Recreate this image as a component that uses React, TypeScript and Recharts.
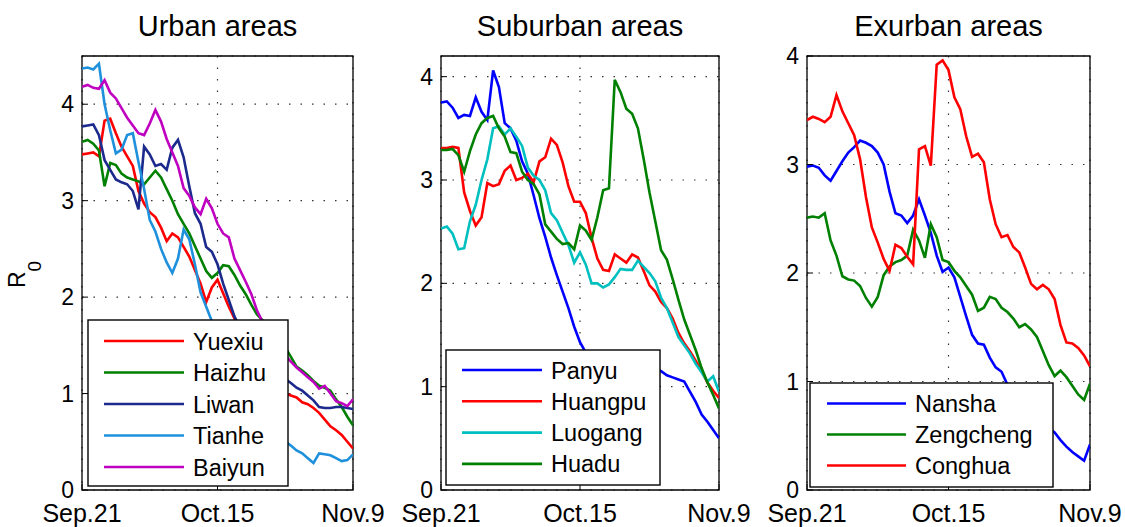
import React from "react";
import { LineChart, Line, XAxis, YAxis, CartesianGrid, ReferenceArea } from "recharts";

// ---- shared x axis ----
const days = [0,1,2,3,4,5,6,7,8,9,10,11,12,13,14,15,16,17,18,19,20,21,22,23,24,25,26,27,28,29,30,31,32,33,34,35,36,37,38,39,40,41,42,43,44,45,46,47,48];
const xTickDays = [0, 24, 48];
const xTickLabels = ["Sep.21", "Oct.15", "Nov.9"];
const yTicks = [0, 1, 2, 3, 4];

// ---- Urban areas ----
const urbanNames = ["Yuexiu", "Haizhu", "Liwan", "Tianhe", "Baiyun"];
const urbanColors = ["#ff0000", "#008000", "#1b2a8c", "#1e90dc", "#c000c0"];
const yuexiu = [3.48,3.49,3.50,3.46,3.83,3.85,3.70,3.56,3.46,3.36,3.10,2.97,2.88,2.83,2.72,2.58,2.66,2.62,2.52,2.42,2.28,2.14,1.95,2.10,2.18,2.04,1.90,1.78,1.66,1.55,1.45,1.36,1.28,1.20,1.12,1.05,1.00,0.98,0.96,0.91,0.89,0.85,0.80,0.73,0.66,0.62,0.57,0.50,0.43];
const haizhu = [3.61,3.63,3.59,3.52,3.15,3.39,3.37,3.28,3.24,3.22,3.20,3.17,3.24,3.31,3.24,3.12,3.00,2.86,2.76,2.66,2.53,2.40,2.27,2.20,2.25,2.33,2.32,2.23,2.12,2.03,1.92,1.82,1.76,1.68,1.60,1.53,1.48,1.38,1.28,1.24,1.19,1.13,1.08,1.06,1.03,0.94,0.86,0.76,0.67];
const liwan = [3.77,3.78,3.79,3.68,3.42,3.32,3.22,3.19,3.17,3.10,2.91,3.56,3.48,3.36,3.38,3.32,3.55,3.63,3.45,3.15,2.87,2.76,2.52,2.47,2.34,2.14,1.97,1.80,1.68,1.58,1.50,1.43,1.36,1.30,1.24,1.19,1.15,1.11,1.06,1.03,0.98,0.93,0.86,0.85,0.85,0.86,0.86,0.85,0.84];
const tianhe = [4.37,4.38,4.36,4.42,4.00,3.73,3.49,3.53,3.68,3.70,3.40,3.12,2.80,2.68,2.50,2.36,2.25,2.40,2.70,2.60,2.34,2.05,1.90,1.75,1.55,1.35,1.20,1.05,0.95,0.85,0.78,0.72,0.66,0.60,0.56,0.52,0.50,0.46,0.41,0.38,0.33,0.28,0.38,0.37,0.36,0.33,0.30,0.31,0.37];
const baiyun = [4.18,4.20,4.17,4.16,4.25,4.12,4.06,3.96,3.86,3.78,3.70,3.68,3.80,3.94,3.82,3.64,3.50,3.36,3.13,3.05,2.93,2.86,3.02,2.92,2.76,2.66,2.62,2.40,2.28,2.16,2.03,1.86,1.74,1.64,1.55,1.47,1.40,1.33,1.27,1.22,1.17,1.12,1.05,1.08,1.00,0.92,0.90,0.87,0.94];

// ---- Suburban areas ----
const suburbanNames = ["Panyu", "Huangpu", "Luogang", "Huadu"];
const suburbanColors = ["#0000ff", "#ff0000", "#00bfbf", "#008000"];
const panyu = [3.75,3.76,3.70,3.60,3.63,3.62,3.80,3.66,3.58,4.06,3.90,3.55,3.50,3.38,3.18,3.06,2.85,2.63,2.45,2.25,2.08,1.92,1.76,1.58,1.43,1.33,1.29,1.27,1.25,1.24,1.23,1.22,1.21,1.20,1.20,1.19,1.18,1.17,1.15,1.11,1.09,1.07,1.05,0.95,0.85,0.73,0.66,0.58,0.50];
const huangpu = [3.31,3.31,3.32,3.31,2.88,2.70,2.56,2.64,2.97,2.94,2.96,3.09,3.14,3.00,3.02,3.06,2.98,3.18,3.22,3.40,3.34,3.17,2.94,2.79,2.79,2.68,2.44,2.24,2.13,2.12,2.28,2.24,2.20,2.28,2.25,2.12,1.98,1.92,1.82,1.76,1.66,1.52,1.42,1.34,1.25,1.15,1.04,0.96,0.89];
const luogang = [2.53,2.55,2.48,2.33,2.34,2.60,2.76,3.00,3.20,3.50,3.52,3.44,3.50,3.42,3.33,3.12,3.04,3.00,2.90,2.68,2.61,2.49,2.37,2.20,2.30,2.18,2.00,2.00,1.96,1.99,2.06,2.14,2.13,2.13,2.22,2.16,2.10,2.02,1.86,1.76,1.62,1.48,1.40,1.32,1.22,1.14,1.05,1.10,0.95];
const huadu = [3.29,3.29,3.30,3.24,3.08,3.28,3.44,3.55,3.60,3.62,3.50,3.42,3.27,3.26,3.08,3.00,2.96,2.86,2.57,2.50,2.43,2.38,2.39,2.33,2.56,2.51,2.42,2.64,2.90,2.92,3.97,3.85,3.69,3.64,3.50,3.20,2.88,2.60,2.32,2.23,2.04,1.84,1.65,1.50,1.35,1.18,1.04,0.92,0.79];

// ---- Exurban areas ----
const exurbanNames = ["Nansha", "Zengcheng", "Conghua"];
const exurbanColors = ["#0000ff", "#008000", "#ff0000"];
const nansha = [2.98,2.99,2.97,2.90,2.85,2.94,3.03,3.11,3.16,3.22,3.20,3.17,3.11,3.00,2.75,2.55,2.53,2.46,2.53,2.68,2.53,2.37,2.16,2.01,2.05,1.96,1.78,1.60,1.43,1.35,1.34,1.22,1.13,1.09,0.97,0.90,0.84,0.78,0.72,0.67,0.62,0.57,0.53,0.46,0.40,0.35,0.31,0.27,0.42];
const zengcheng = [2.51,2.52,2.51,2.55,2.30,2.16,1.97,1.94,1.93,1.88,1.77,1.69,1.78,1.98,2.06,2.10,2.12,2.16,2.40,2.30,2.14,2.45,2.33,2.12,2.10,2.02,1.96,1.88,1.80,1.65,1.68,1.78,1.76,1.68,1.64,1.58,1.50,1.53,1.48,1.41,1.28,1.15,1.05,1.10,1.04,0.96,0.88,0.83,0.98];
const conghua = [3.41,3.44,3.42,3.39,3.44,3.64,3.49,3.38,3.27,3.05,2.70,2.42,2.28,2.13,2.02,2.26,2.23,2.15,2.08,3.14,3.17,2.99,3.92,3.96,3.87,3.62,3.51,3.26,3.07,3.10,3.02,2.68,2.45,2.33,2.35,2.24,2.19,2.05,1.90,1.85,1.89,1.85,1.76,1.52,1.36,1.35,1.31,1.24,1.14];

const FONT = '"Liberation Sans", Arial, Helvetica, sans-serif';
const YW = 60;
const MR = 45;

type Panel = {
  title: string;
  names: string[];
  colors: string[];
  series: number[][];
  yMax: number;
  plotLeft: number;
  plotRight: number;
  legend: { x: number; y: number; w: number; h: number; row0: number; step: number; lx1: number; lx2: number; tx: number };
};

const panels: Panel[] = [
  {
    title: "Urban areas",
    names: urbanNames,
    colors: urbanColors,
    series: [yuexiu, haizhu, liwan, tianhe, baiyun],
    yMax: 4.5,
    plotLeft: 82,
    plotRight: 353,
    legend: { x: 88, y: 320, w: 200, h: 166, row0: 341, step: 31.5, lx1: 104, lx2: 184, tx: 193 },
  },
  {
    title: "Suburban areas",
    names: suburbanNames,
    colors: suburbanColors,
    series: [panyu, huangpu, luogang, huadu],
    yMax: 4.2,
    plotLeft: 441,
    plotRight: 719,
    legend: { x: 446, y: 350, w: 214, h: 135, row0: 370, step: 31.3, lx1: 462, lx2: 542, tx: 551 },
  },
  {
    title: "Exurban areas",
    names: exurbanNames,
    colors: exurbanColors,
    series: [nansha, zengcheng, conghua],
    yMax: 4,
    plotLeft: 807,
    plotRight: 1090,
    legend: { x: 810, y: 383, w: 243, h: 104, row0: 403.5, step: 31, lx1: 827, lx2: 906, tx: 915 },
  },
];

function buildRows(p: Panel) {
  return days.map((d, k) => {
    const row: Record<string, number> = { day: d };
    p.names.forEach((n, j) => {
      row[n] = p.series[j][k];
    });
    return row;
  });
}

function PanelChart({ p }: { p: Panel }) {
  const pw = p.plotRight - p.plotLeft;
  const rows = buildRows(p);
  return (
    <div style={{ position: "absolute", left: p.plotLeft - YW, top: 0 }}>
      <LineChart width={YW + pw + MR} height={527} data={rows} margin={{ top: 56, right: MR, bottom: 0, left: 0 }}>
        <CartesianGrid strokeDasharray="1.5 10" stroke="#333" strokeWidth={1.2} />
        <XAxis
          dataKey="day"
          type="number"
          domain={[0, 48]}
          ticks={xTickDays}
          interval={0}
          tickFormatter={(v: number) => xTickLabels[xTickDays.indexOf(v)]}
          height={37}
          axisLine={false}
          tickSize={-6}
          tickMargin={20}
          tick={{ fontSize: 25, fill: "#000" }}
          tickLine={{ stroke: "#000" }}
          allowDataOverflow
        />
        <YAxis
          type="number"
          domain={[0, p.yMax]}
          ticks={yTicks}
          interval={0}
          width={YW}
          axisLine={false}
          tickSize={-6}
          tickMargin={14}
          tick={{ fontSize: 23, fill: "#000" }}
          tickLine={{ stroke: "#000" }}
          allowDataOverflow
        />
        {p.names.map((n, j) => (
          <Line
            key={n}
            dataKey={n}
            type="linear"
            stroke={p.colors[j]}
            strokeWidth={2.6}
            dot={false}
            activeDot={false}
            isAnimationActive={false}
          />
        ))}
        <ReferenceArea x1={0} x2={48} y1={0} y2={p.yMax} fill="none" fillOpacity={0} stroke="#000" strokeWidth={1.3} ifOverflow="visible" />
      </LineChart>
    </div>
  );
}

function Overlay() {
  return (
    <svg width={1125} height={527} style={{ position: "absolute", left: 0, top: 0, pointerEvents: "none" }}>
      {panels.map((p) => (
        <text key={p.title} x={(p.plotLeft + p.plotRight) / 2} y={36} textAnchor="middle" fontSize={29} fill="#000" fontFamily={FONT}>
          {p.title}
        </text>
      ))}
      <text transform="rotate(-90)" x={-288} y={25} fontSize={23} fill="#000" fontFamily={FONT}>
        R<tspan fontSize={19} dy={16}>0</tspan>
      </text>
      {panels.map((p) => {
        const L = p.legend;
        return (
          <g key={p.title + "-legend"}>
            <rect x={L.x} y={L.y} width={L.w} height={L.h} fill="#fff" stroke="#000" strokeWidth={1.4} />
            {p.names.map((n, j) => {
              const cy = L.row0 + j * L.step;
              return (
                <g key={n}>
                  <line x1={L.lx1} x2={L.lx2} y1={cy} y2={cy} stroke={p.colors[j]} strokeWidth={2.6} />
                  <text x={L.tx} y={cy + 8.5} fontSize={23.5} fill="#000" fontFamily={FONT}>
                    {n}
                  </text>
                </g>
              );
            })}
          </g>
        );
      })}
    </svg>
  );
}

export default function App() {
  return (
    <div
      style={{
        position: "absolute",
        left: 0,
        top: 0,
        width: 1125,
        height: 527,
        overflow: "hidden",
        background: "#fff",
        fontFamily: FONT,
      }}
    >
      {panels.map((p) => (
        <PanelChart key={p.title} p={p} />
      ))}
      <Overlay />
    </div>
  );
}
